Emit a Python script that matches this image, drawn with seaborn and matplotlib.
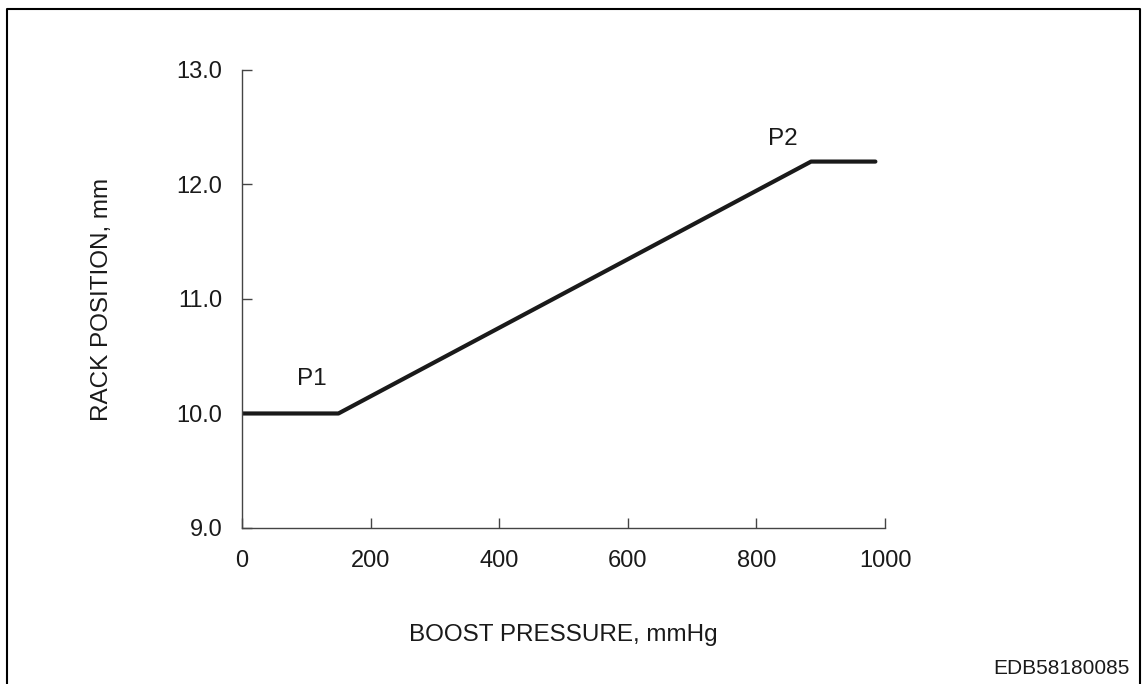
import matplotlib
matplotlib.use("Agg")
import matplotlib.pyplot as plt
import seaborn as sns
import pandas as pd
from matplotlib.lines import Line2D

# data
boost_pressure = [0, 150, 885, 985]
rack_position = [10.0, 10.0, 12.2, 12.2]
x_ticks = [0, 200, 400, 600, 800, 1000]
y_ticks = [9.0, 10.0, 11.0, 12.0, 13.0]
point_labels = ["P1", "P2"]
point_x = [108, 841]
point_y = [10.3, 12.4]

sns.set_theme(style="ticks")
plt.rcParams["font.family"] = ["Liberation Sans", "DejaVu Sans"]

df = pd.DataFrame({"boost": boost_pressure, "rack": rack_position})

fig = plt.figure(figsize=(11.43, 6.84), dpi=100)
ax = fig.add_axes([0.2117, 0.2281, 0.5626, 0.6696])

sns.lineplot(data=df, x="boost", y="rack", color="#1a1a1a", linewidth=3, ax=ax)

ax.set_xlim(0, 1000)
ax.set_ylim(9.0, 13.0)
ax.set_xticks(x_ticks)
ax.set_yticks(y_ticks)
ax.set_yticklabels([f"{v:.1f}" for v in y_ticks])
sns.despine(ax=ax)
for side in ["left", "bottom"]:
    ax.spines[side].set_color("#444444")
    ax.spines[side].set_linewidth(1.0)
ax.tick_params(direction="in", length=7, width=1, color="#444444",
               labelsize=17, labelcolor="#1a1a1a")
ax.tick_params(axis="x", pad=16)
ax.tick_params(axis="y", pad=14)

ax.set_xlabel("BOOST PRESSURE, mmHg", fontsize=17.5, color="#1a1a1a", labelpad=37)
ax.set_ylabel("RACK POSITION, mm", fontsize=17.5, color="#1a1a1a", labelpad=46)

for lab, px, py in zip(point_labels, point_x, point_y):
    ax.text(px, py, lab, fontsize=17.5, color="#1a1a1a", ha="center", va="center")

fig.text(1130 / 1143, 1 - 668 / 684, "EDB58180085", fontsize=15,
         color="#1a1a1a", ha="right", va="center")

# outer frame (left, top, right)
fx0, fx1 = 6.5 / 1143, 1139.5 / 1143
fy1 = 1 - 9 / 684
fig.add_artist(Line2D([fx0, fx0, fx1, fx1], [0, fy1, fy1, 0],
                      color="black", linewidth=1.5, transform=fig.transFigure))

fig.savefig("out.png", dpi=100)
